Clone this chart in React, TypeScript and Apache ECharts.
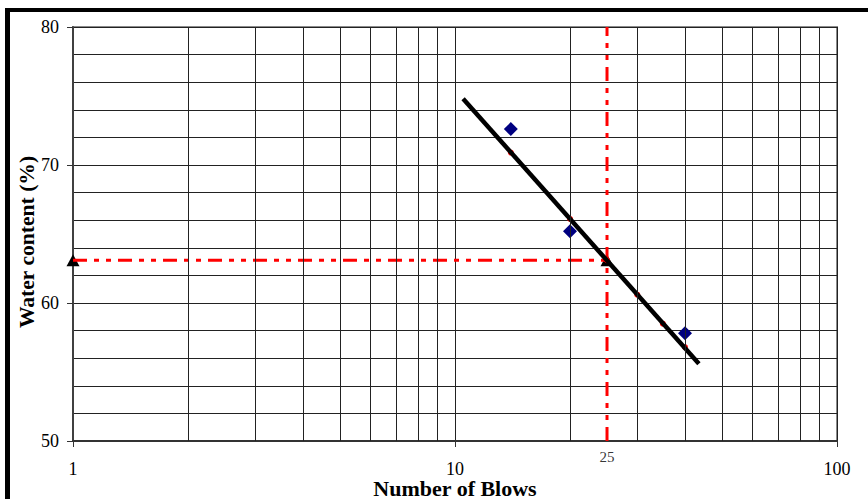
import React, { useEffect, useRef } from "react";
import * as echarts from "echarts";

// Measured points (blue diamonds)
const measured: [number, number][] = [
  [14, 72.6],
  [20, 65.2],
  [40, 57.8],
];
// Points predicted on the flow curve (red circles)
const predicted: [number, number][] = [
  [14, 70.9],
  [20, 66.1],
  [25, 63.1],
  [30, 60.6],
  [35, 58.5],
  [40, 56.8],
];
// Flow curve end points
const trendLine: [number, number][] = [
  [10.5, 74.8],
  [43.5, 55.6],
];
// Liquid limit read-off
const llBlows = 25;
const llWater = 63.1;
const horizontalRef: [number, number][] = [
  [1, llWater],
  [llBlows, llWater],
];
const verticalRef: [number, number][] = [
  [llBlows, 50],
  [llBlows, 80],
];
const triangles: [number, number][] = [
  [1, llWater],
  [llBlows, llWater],
];
// Minor vertical grid lines on the log axis
const minorXGrid = [2, 3, 4, 5, 6, 7, 8, 9, 20, 30, 40, 50, 60, 70, 80, 90];

const FONT = "'Liberation Serif', 'Times New Roman', serif";

export default function App() {
  const ref = useRef<HTMLDivElement>(null);
  useEffect(() => {
    if (!ref.current) return;
    const chart = echarts.init(ref.current, null, { renderer: "svg" });
    const dash = [14, 7, 5, 7, 5, 7];
    chart.setOption({
      animation: false,
      backgroundColor: "#ffffff",
      grid: {
        left: 73,
        right: 31,
        top: 27,
        bottom: 58,
        show: true,
        borderColor: "#8a8a8a",
        borderWidth: 2,
        backgroundColor: "transparent",
      },
      xAxis: {
        type: "log",
        logBase: 10,
        min: 1,
        max: 100,
        axisLine: { show: true, lineStyle: { color: "#333", width: 2 } },
        axisTick: { show: true, length: 6, lineStyle: { color: "#333" } },
        axisLabel: {
          color: "#000",
          fontSize: 18,
          fontFamily: FONT,
          margin: 19,
        },
        splitLine: { show: true, lineStyle: { color: "#222", width: 1 } },
      },
      yAxis: {
        type: "value",
        min: 50,
        max: 80,
        interval: 10,
        axisLine: { show: true, lineStyle: { color: "#404040", width: 2 } },
        axisTick: { show: true, length: 6, lineStyle: { color: "#333" } },
        axisLabel: {
          color: "#000",
          fontSize: 18,
          fontFamily: FONT,
          margin: 14,
        },
        splitLine: { show: true, lineStyle: { color: "#222", width: 1 } },
        minorTick: { show: false, splitNumber: 5 },
        minorSplitLine: { show: true, lineStyle: { color: "#222", width: 1 } },
      },
      series: [
        {
          type: "line",
          data: [],
          silent: true,
          markLine: {
            silent: true,
            symbol: ["none", "none"],
            label: { show: false },
            lineStyle: { color: "#222", width: 1, type: "solid" },
            data: minorXGrid.map((v) => ({ xAxis: v })),
          },
        },
        {
          type: "line",
          data: horizontalRef,
          showSymbol: false,
          silent: true,
          lineStyle: { color: "#ff0000", width: 3, type: dash },
        },
        {
          type: "line",
          data: verticalRef,
          showSymbol: false,
          silent: true,
          lineStyle: { color: "#ff0000", width: 3, type: dash },
        },
        {
          type: "scatter",
          data: triangles,
          symbol: "triangle",
          symbolSize: [13, 12],
          clip: false,
          itemStyle: { color: "#000", opacity: 1 },
        },
        {
          type: "scatter",
          data: predicted,
          symbol: "circle",
          symbolSize: 6,
          itemStyle: { color: "#ff0000", opacity: 1 },
        },
        {
          type: "line",
          data: trendLine,
          showSymbol: false,
          silent: true,
          lineStyle: { color: "#000", width: 4.5 },
        },
        {
          type: "scatter",
          data: measured,
          symbol: "diamond",
          symbolSize: 14,
          itemStyle: { color: "#000080", opacity: 1 },
        },
        {
          type: "scatter",
          data: [[llBlows, 50]],
          symbolSize: 0,
          clip: false,
          silent: true,
          label: {
            show: true,
            position: "bottom",
            distance: 8,
            formatter: String(llBlows),
            color: "#000",
            fontSize: 15,
            fontFamily: FONT,
          },
        },
      ],
      graphic: [
        {
          type: "rect",
          shape: { x: 5, y: 8, width: 863, height: 4 },
          style: { fill: "#000" },
          silent: true,
        },
        {
          type: "rect",
          shape: { x: 5, y: 8, width: 5, height: 491 },
          style: { fill: "#000" },
          silent: true,
        },
        {
          type: "text",
          x: 455,
          y: 489,
          scaleX: 1.1,
          style: {
            text: "Number of Blows",
            fill: "#000",
            font: `bold 20px ${FONT}`,
            textAlign: "center",
            textVerticalAlign: "middle",
          },
        },
        {
          type: "text",
          x: 27,
          y: 242,
          rotation: Math.PI / 2,
          scaleX: 1.08,
          style: {
            text: "Water content (%)",
            fill: "#000",
            font: `bold 20px ${FONT}`,
            textAlign: "center",
            textVerticalAlign: "middle",
          },
        },
      ],
    });
    return () => chart.dispose();
  }, []);
  return (
    <div
      ref={ref}
      style={{ position: "fixed", left: 0, top: 0, width: 868, height: 499 }}
    />
  );
}
